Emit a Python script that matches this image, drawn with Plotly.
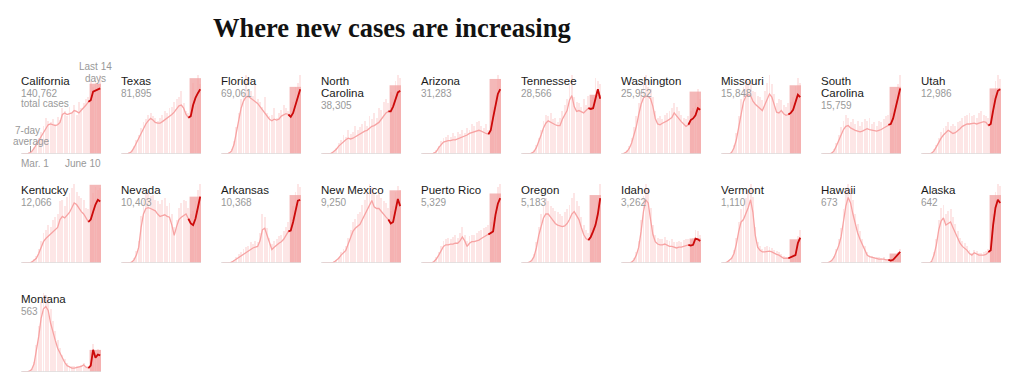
import plotly.graph_objects as go
import pandas as pd

W, H = 1021, 388
PAGE_MARGIN = 8  # default body margin of the html page
FIG_W, FIG_H = W - 2 * PAGE_MARGIN, H - 2 * PAGE_MARGIN

# sample dates (every 3 days, Mar. 3 .. June 10)
dates = pd.date_range("2020-03-03", "2020-06-10", freq="3D")

states = ["California", "Texas", "Florida", "North Carolina", "Arizona", "Tennessee",
          "Washington", "Missouri", "South Carolina", "Utah",
          "Kentucky", "Nevada", "Arkansas", "New Mexico", "Puerto Rico", "Oregon",
          "Idaho", "Vermont", "Hawaii", "Alaska", "Montana"]
name_lines = [["California"], ["Texas"], ["Florida"], ["North", "Carolina"], ["Arizona"],
              ["Tennessee"], ["Washington"], ["Missouri"], ["South", "Carolina"], ["Utah"],
              ["Kentucky"], ["Nevada"], ["Arkansas"], ["New Mexico"], ["Puerto Rico"],
              ["Oregon"], ["Idaho"], ["Vermont"], ["Hawaii"], ["Alaska"], ["Montana"]]
total_cases = ["140,762", "81,895", "69,061", "38,305", "31,283", "28,566", "25,952",
               "15,848", "15,759", "12,986", "12,066", "10,403", "10,368", "9,250",
               "5,329", "5,183", "3,262", "1,110", "673", "642", "563"]

# 7-day average, as % of each panel's peak daily value
ca_avg = [0,0,0,1,3,7,12,17,22,28,33,37,38,37,36,37,40,50,52,50,51,52,55,54,52,55,58,62,66,68,79,80,81,83]
tx_avg = [0,0,0,1,3,8,14,20,27,33,38,42,45,43,40,39,39,41,43,45,47,50,53,57,61,62,58,50,46,48,62,71,77,82]
fl_avg = [0,0,0,1,4,12,28,45,58,67,72,73,71,69,67,64,60,56,52,48,44,42,44,43,44,48,50,51,50,47,52,63,74,82]
nc_avg = [0,0,0,0,1,3,6,10,13,16,18,20,19,20,22,24,25,27,29,30,33,35,36,38,40,44,48,52,54,54,60,68,78,80]
az_avg = [0,0,0,0,0,1,3,8,12,15,16,17,17,18,18,19,20,21,22,24,26,27,28,29,30,29,27,26,25,30,46,60,76,82]
tn_avg = [0,0,0,0,1,3,8,15,24,33,39,42,40,38,37,36,36,44,50,55,68,74,60,54,55,53,52,55,58,57,58,72,82,70]
wa_avg = [0,1,3,7,14,24,35,50,63,71,73,73,70,60,45,38,37,39,40,42,44,46,52,48,45,41,38,35,37,43,45,49,58,56]
mo_avg = [0,0,0,0,2,8,18,35,52,66,73,75,74,67,63,60,57,55,62,70,76,72,62,53,52,55,51,49,50,52,56,67,75,72]
sc_avg = [0,0,0,0,1,4,10,17,25,31,35,36,33,31,30,29,28,29,31,32,31,30,29,29,30,31,33,35,37,38,45,58,67,83]
ut_avg = [0,0,0,0,1,4,9,15,20,24,27,30,28,26,27,29,32,35,37,38,38,39,39,38,39,40,41,40,36,38,55,70,80,82]
ky_avg = [0,0,0,0,1,3,6,12,20,27,31,34,36,39,42,45,55,59,57,60,64,70,76,74,69,65,62,57,52,55,65,74,80,78]
nv_avg = [0,0,0,0,1,4,10,20,45,62,69,70,69,68,66,62,59,60,61,59,58,48,35,46,55,58,60,62,56,50,48,56,70,84]
ar_avg = [0,0,0,0,1,3,5,8,10,12,14,16,18,19,20,21,28,42,44,35,26,17,20,23,25,27,30,35,40,41,52,68,79,80]
nm_avg = [0,0,0,0,0,1,3,6,10,13,16,24,32,40,44,47,49,55,61,66,74,79,71,69,69,65,62,58,55,50,52,68,81,72]
pr_avg = [0,0,0,0,0,2,5,10,16,21,23,23,24,24,25,25,28,33,28,21,25,27,27,28,29,31,33,34,36,38,40,61,75,82]
or_avg = [0,0,0,1,3,8,19,35,48,57,62,62,58,54,50,48,47,46,47,50,55,62,65,60,55,45,36,31,29,33,40,48,62,82]
id_avg = [0,0,0,0,1,4,10,20,40,65,80,76,55,36,27,24,23,23,24,22,21,21,20,19,20,20,21,22,23,22,23,31,30,28]
vt_avg = [0,0,1,3,6,12,24,40,52,55,62,70,80,64,35,20,16,14,14,15,15,14,12,11,10,8,6,6,6,7,8,10,25,32]
hi_avg = [0,0,0,1,3,7,14,22,33,52,72,83,76,62,48,38,30,23,16,10,8,7,6,6,5,5,5,4,4,3,4,7,10,14]
ak_avg = [0,0,0,0,2,10,23,42,53,57,48,50,52,45,38,31,25,21,19,16,12,10,13,11,10,10,10,11,14,16,48,70,80,76]
mt_avg = [0,0,0,1,3,10,26,45,68,80,83,78,62,50,40,30,24,17,12,8,6,5,5,6,6,7,9,6,5,8,28,18,22,21]

# daily new cases, as % of each panel's peak daily value
ca_daily = [0,0,1,2,4,9,14,20,28,35,45,42,40,44,38,47,43,58,55,48,60,52,62,50,66,58,64,70,72,92,85,96,88,100]
tx_daily = [0,0,1,2,5,10,18,24,33,40,44,50,52,48,45,42,46,49,55,52,58,60,66,70,72,80,65,55,52,62,90,78,100,88]
fl_daily = [0,0,1,2,6,16,34,52,70,78,100,82,80,74,88,70,66,60,72,52,48,50,58,46,52,56,62,58,54,60,66,85,90,100]
nc_daily = [0,0,0,1,2,4,8,14,18,24,22,30,25,28,35,30,34,38,42,36,48,44,52,46,58,56,66,70,64,78,75,92,100,96]
az_daily = [0,0,0,0,1,2,5,10,16,20,22,24,21,26,23,28,25,30,27,33,31,38,36,40,42,35,33,38,30,42,60,75,100,95]
tn_daily = [0,0,0,1,2,5,12,20,30,42,50,48,52,44,46,40,45,55,62,70,88,100,72,66,64,60,70,62,74,68,72,96,92,88]
wa_daily = [0,2,5,10,20,34,48,65,78,90,100,85,82,72,55,46,48,44,50,52,55,58,65,60,54,50,46,44,48,55,58,65,82,70]
mo_daily = [0,0,0,1,4,12,26,48,70,85,95,92,90,80,78,74,72,68,80,90,100,88,76,64,70,68,62,60,64,66,72,86,96,90]
sc_daily = [0,0,0,1,2,6,14,24,34,42,50,46,40,44,38,42,36,40,44,42,46,38,40,36,42,40,44,48,50,52,62,76,88,100]
ut_daily = [0,0,0,1,2,6,12,20,28,33,36,40,35,38,36,40,42,46,48,50,52,48,50,46,52,54,50,48,46,55,75,92,100,95]
ky_daily = [0,0,0,1,2,5,9,18,28,38,42,48,46,54,58,62,78,80,72,84,88,95,100,90,85,82,80,70,68,74,88,96,92,95]
nv_daily = [0,0,0,1,2,6,15,28,60,80,88,90,85,86,80,78,75,80,82,72,76,62,45,55,70,76,80,78,70,62,66,78,92,100]
ar_daily = [0,0,0,1,2,4,7,12,14,18,20,22,26,24,28,26,38,62,58,44,32,24,28,30,34,36,40,46,52,58,72,90,100,96]
nm_daily = [0,0,0,0,1,2,4,8,14,18,22,32,42,52,56,62,64,74,80,88,100,96,90,86,88,82,78,76,70,66,72,90,98,92]
pr_daily = [0,0,0,0,1,3,7,14,22,28,30,32,30,33,35,32,38,46,36,28,34,36,35,38,40,42,44,46,48,52,58,80,96,100]
or_daily = [0,0,0,1,4,12,26,46,62,74,82,78,72,70,66,64,62,60,64,68,74,82,88,78,72,58,48,42,38,44,54,64,80,100]
id_daily = [0,0,0,0,2,6,14,28,55,85,100,95,70,48,36,32,30,31,33,29,28,30,27,26,28,27,29,30,31,29,32,42,40,36]
vt_daily = [0,0,1,4,8,16,32,52,68,72,82,92,100,84,46,26,22,18,20,21,20,19,17,15,14,11,9,8,8,10,12,14,34,42]
hi_daily = [0,0,0,1,4,9,18,30,44,68,92,100,96,80,62,50,40,30,21,14,10,9,8,8,7,6,7,5,5,4,6,9,14,18]
ak_daily = [0,0,0,0,3,14,30,55,70,74,62,66,68,58,50,40,32,28,25,21,16,13,17,15,13,13,14,15,18,21,62,90,100,98]
mt_daily = [0,0,0,1,4,13,34,58,88,100,98,95,80,65,52,40,31,22,16,11,8,7,7,8,8,9,12,8,7,11,36,24,29,28]

# height of the "last 14 days" band (% of panel)
shade_level = [89, 96, 85, 87, 95, 75, 79, 87, 85, 83,
               99, 84, 86, 92, 88, 86, 31, 30, 12, 86, 28]

avg_series = [ca_avg, tx_avg, fl_avg, nc_avg, az_avg, tn_avg, wa_avg, mo_avg, sc_avg, ut_avg,
              ky_avg, nv_avg, ar_avg, nm_avg, pr_avg, or_avg, id_avg, vt_avg, hi_avg, ak_avg, mt_avg]
daily_series = [ca_daily, tx_daily, fl_daily, nc_daily, az_daily, tn_daily, wa_daily, mo_daily,
                sc_daily, ut_daily, ky_daily, nv_daily, ar_daily, nm_daily, pr_daily, or_daily,
                id_daily, vt_daily, hi_daily, ak_daily, mt_daily]

LAST14_START = "2020-05-27 12:00"
X_START, X_END = "2020-03-01 12:00", "2020-06-11 00:00"

BAR_COLOR = "rgba(248,160,160,0.26)"
SHADE_COLOR = "#f4b8b8"
AVG_COLOR = "#f7a3a3"
RED = "#cc0a0a"
GRAY = "#999999"
DARK = "#1a1a1a"
FONT = "Liberation Sans, Arial, sans-serif"

PANEL_W, PANEL_H = 80, 79
COL_STEP, ROW_STEP = 100, 109
LEFT0, BASE0 = 21, 154
TEXT_PAD = 2  # annotation inner padding


def fx(px):
    return (px - PAGE_MARGIN) / FIG_W


def fy(py):
    return 1 - (py - PAGE_MARGIN) / FIG_H


fig = go.Figure()
annotations = []
shapes = []
layout_axes = {}
day_ms = 86400000

for i, st in enumerate(states):
    n = i + 1
    row, col = divmod(i, 10)
    x0 = LEFT0 + COL_STEP * col
    base = BASE0 + ROW_STEP * row
    top = base - PANEL_H
    xs = "x" if n == 1 else f"x{n}"
    ys = "y" if n == 1 else f"y{n}"
    xk = "xaxis" if n == 1 else f"xaxis{n}"
    yk = "yaxis" if n == 1 else f"yaxis{n}"
    layout_axes[xk] = dict(domain=[fx(x0), fx(x0 + PANEL_W)], anchor=ys, type="date",
                           range=[X_START, X_END], visible=False, fixedrange=True)
    layout_axes[yk] = dict(domain=[fy(base), fy(top)], anchor=xs, range=[0, 100],
                           visible=False, fixedrange=True)

    # last-14-days band
    shapes.append(dict(type="rect", xref=xs, yref=ys, x0=LAST14_START, x1=X_END,
                       y0=0, y1=shade_level[i], fillcolor=SHADE_COLOR,
                       line=dict(width=0), layer="below"))
    # baseline
    shapes.append(dict(type="line", xref=f"{xs} domain", yref=ys, x0=0, x1=1, y0=0, y1=0,
                       line=dict(color="#dddddd", width=1.5), layer="above"))

    fig.add_trace(go.Bar(x=dates, y=daily_series[i], xaxis=xs, yaxis=ys,
                         marker=dict(color=BAR_COLOR, line=dict(width=0)),
                         width=2.4 * day_ms, showlegend=False, hoverinfo="skip"))
    fig.add_trace(go.Scatter(x=dates, y=avg_series[i], xaxis=xs, yaxis=ys, mode="lines",
                             line=dict(color=AVG_COLOR, width=1.3), showlegend=False,
                             hoverinfo="skip"))
    fig.add_trace(go.Scatter(x=dates[28:], y=avg_series[i][28:], xaxis=xs, yaxis=ys,
                             mode="lines", line=dict(color=RED, width=1.8),
                             showlegend=False, hoverinfo="skip"))

    # labels
    ty = base - 73
    tx = x0 - TEXT_PAD
    for line in name_lines[i]:
        annotations.append(dict(x=fx(tx), y=fy(ty), xref="paper", yref="paper",
                                text=line, showarrow=False, xanchor="left", yanchor="middle",
                                font=dict(family=FONT, size=11.5, color=DARK)))
        ty += 12
    annotations.append(dict(x=fx(tx), y=fy(ty), xref="paper", yref="paper",
                            text=total_cases[i], showarrow=False, xanchor="left",
                            yanchor="middle", font=dict(family=FONT, size=10, color=GRAY)))
    if i == 0:
        annotations.append(dict(x=fx(tx), y=fy(ty + 10), xref="paper", yref="paper",
                                text="total cases", showarrow=False, xanchor="left",
                                yanchor="middle", font=dict(family=FONT, size=10, color=GRAY)))

# California key annotations
small = dict(family=FONT, size=10, color=GRAY)
for txt, px, py, anc in [("Last 14", 95, 67, "center"), ("days", 95, 78, "center"),
                         ("7-day", 27, 131, "center"), ("average", 31, 141, "center"),
                         ("Mar. 1", 21 - TEXT_PAD, 163, "left"),
                         ("June 10", 101 + TEXT_PAD, 163, "right")]:
    annotations.append(dict(x=fx(px), y=fy(py), xref="paper", yref="paper", text=txt,
                            showarrow=False, xanchor=anc, yanchor="middle", font=small))
shapes.append(dict(type="line", xref="paper", yref="paper", x0=fx(30.5), x1=fx(30.5),
                   y0=fy(146), y1=fy(152), line=dict(color=GRAY, width=1)))

# title
annotations.append(dict(x=fx(392), y=fy(28), xref="paper", yref="paper",
                        text="Where new cases are increasing", showarrow=False,
                        xanchor="center", yanchor="middle",
                        font=dict(family="Liberation Serif, Times New Roman, serif", size=26.5,
                                  color="#121212", weight=700)))

fig.update_layout(width=FIG_W, height=FIG_H, margin=dict(l=0, r=0, t=0, b=0),
                  paper_bgcolor="white", plot_bgcolor="rgba(0,0,0,0)",
                  barmode="overlay", bargap=0, annotations=annotations, shapes=shapes,
                  **layout_axes)

fig.write_html("out.html")
